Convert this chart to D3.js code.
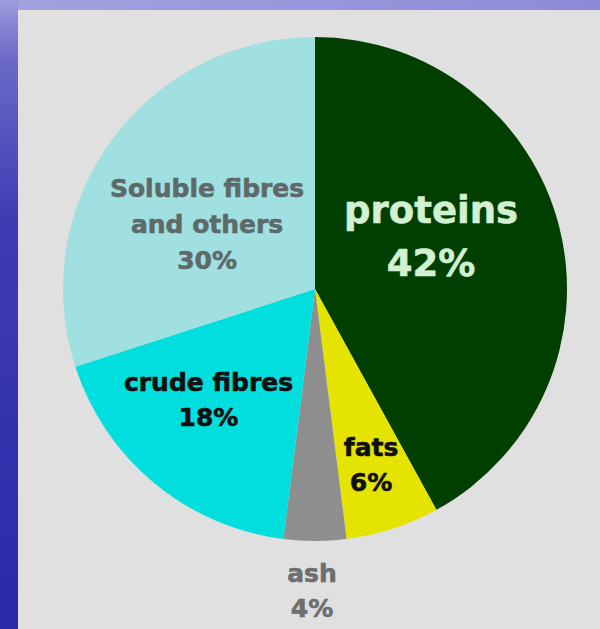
<!DOCTYPE html>
<html>
<head>
<meta charset="utf-8">
<script src="https://cdn.jsdelivr.net/npm/d3@7"></script>
<style>
  html, body { margin: 0; padding: 0; background: #2a2aa8; }
  svg { display: block; }
</style>
</head>
<body>
<svg id="chart" width="600" height="629"></svg>
<script>
// Composition of the meal (% of dry matter), clockwise from 12 o'clock
const categories = ["proteins", "fats", "ash", "crude fibres", "Soluble fibres and others"];
const labelLines = [["proteins"], ["fats"], ["ash"], ["crude fibres"], ["Soluble fibres", "and others"]];
const values = [42, 6, 4, 18, 30];

const sliceColors = ["#003f00", "#e4e400", "#8e8e8e", "#00dede", "#a0e0e0"];
const textColors  = ["#d2f0d2", "#101010", "#6e6e6e", "#101010", "#5e6a6a"];

// label placement: radius as a fraction of the pie radius, plus small nudges
const labelStyle = [
  { k: 0.50, dx: -6, dy: -22, size: 37, lh: 53 },
  { k: 0.72, dx: 0,  dy: 3,   size: 25, lh: 35 },
  { k: 1.19, dx: -3, dy: 2,   size: 25, lh: 35 },
  { k: 0.607, dx: -9, dy: -7, size: 25, lh: 35 },
  { k: 0.50, dx: -6, dy: 9,   size: 25, lh: 36 }
];

const W = 600, H = 629;
const svg = d3.select("#chart");
const defs = svg.append("defs");

const bg = defs.append("linearGradient").attr("id", "bg")
  .attr("x1", 0).attr("y1", 0).attr("x2", 0).attr("y2", 1);
[[0, "#9f9edd"], [0.03, "#8c8ad6"], [0.1, "#6a68c6"], [0.35, "#3e3cb4"], [1, "#2a2aa8"]]
  .forEach(([o, c]) => bg.append("stop").attr("offset", o).attr("stop-color", c));

svg.append("rect").attr("width", W).attr("height", H).attr("fill", "url(#bg)");
// top band stays lavender across the width
const band = defs.append("linearGradient").attr("id", "band")
  .attr("x1", 0).attr("y1", 0).attr("x2", 1).attr("y2", 0);
[[0, "#a2a2e0"], [1, "#8e8ad8"]]
  .forEach(([o, c]) => band.append("stop").attr("offset", o).attr("stop-color", c));
svg.append("rect").attr("x", 18).attr("width", W - 18).attr("height", 10).attr("fill", "url(#band)");

// light panel
svg.append("rect").attr("x", 18).attr("y", 10).attr("width", W - 18).attr("height", H - 10)
  .attr("fill", "#e0e0e0");

const cx = 315, cy = 289, R = 252;
const g = svg.append("g").attr("transform", `translate(${cx},${cy})`);

const pie = d3.pie().value(d => d).sort(null);
const arcs = pie(values);
const arc = d3.arc().innerRadius(0).outerRadius(R);
const color = d3.scaleOrdinal().domain(categories).range(sliceColors);

g.selectAll("path.slice")
  .data(arcs)
  .join("path")
  .attr("class", "slice")
  .attr("d", arc)
  .attr("fill", (d, i) => color(categories[i]));

// labels: name line(s) followed by the percentage
arcs.forEach((d, i) => {
  const st = labelStyle[i];
  const la = d3.arc().innerRadius(R * st.k).outerRadius(R * st.k);
  const [px, py] = la.centroid(d);
  const lines = labelLines[i].concat([d3.format("d")(values[i]) + "%"]);
  const x = px + st.dx, y = py + st.dy;
  const first = y - (lines.length - 1) * st.lh / 2 + 0.36 * st.size;
  const t = g.append("text")
    .attr("text-anchor", "middle")
    .attr("font-family", "'DejaVu Sans', Verdana, sans-serif")
    .attr("font-weight", "bold")
    .attr("font-size", st.size)
    .attr("fill", textColors[i])
    .attr("stroke", textColors[i])
    .attr("stroke-width", 0.6)
    .attr("stroke-linejoin", "round");
  lines.forEach((ln, j) => {
    t.append("tspan").attr("x", x).attr("y", first + j * st.lh).text(ln);
  });
});
</script>
</body>
</html>
